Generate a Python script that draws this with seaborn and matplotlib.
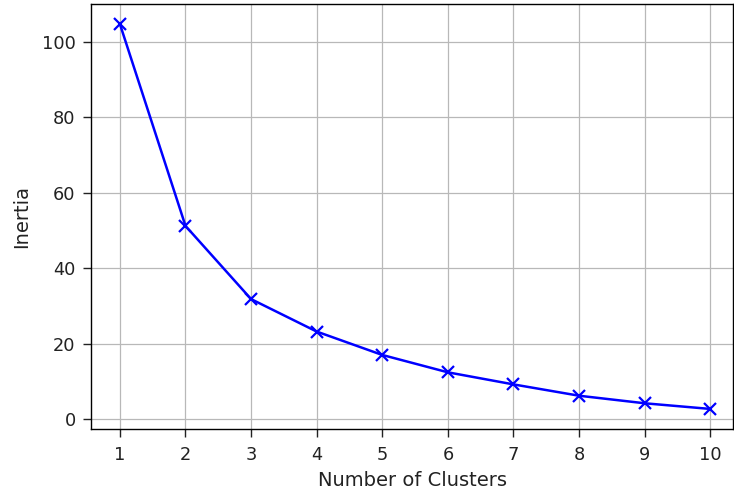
import pandas as pd
import matplotlib
matplotlib.use("Agg")
import matplotlib.pyplot as plt
import seaborn as sns

# elbow curve values
clusters = [1, 2, 3, 4, 5, 6, 7, 8, 9, 10]
inertia = [104.7, 51.2, 31.8, 23.2, 17.0, 12.4, 9.2, 6.2, 4.2, 2.7]

df = pd.DataFrame({'Number of Clusters': clusters, 'Inertia': inertia})

sns.set_theme(style="ticks", rc={
    'axes.edgecolor': 'black',
    'axes.linewidth': 1.0,
    'grid.color': '#b8b8b8',
    'grid.linewidth': 0.9,
    'xtick.color': 'black',
    'ytick.color': 'black',
    'axes.labelcolor': '#222222',
})
plt.rcParams['font.family'] = ['DejaVu Sans']

fig = plt.figure(figsize=(7.34, 4.91), dpi=100)
ax = fig.add_axes([0.124, 0.126, 0.875, 0.866])
sns.lineplot(x='Number of Clusters', y='Inertia', data=df, color='blue',
             marker='x', markersize=9, markeredgewidth=1.6, markeredgecolor='blue',
             linewidth=1.8, ax=ax)
ax.grid(True)
ax.set_xticks(clusters)
ax.set_xlim(0.56, 10.35)
ax.set_ylim(-2.65, 110)
ax.set_yticks([0, 20, 40, 60, 80, 100])
ax.tick_params(labelsize=12.8, length=6, width=1, pad=6, colors='#222222')
ax.tick_params(axis='y', pad=5)
ax.set_xlabel('Number of Clusters', fontsize=14, labelpad=5)
ax.set_ylabel('Inertia', fontsize=14, labelpad=8)

plt.savefig('out.png', dpi=100)
